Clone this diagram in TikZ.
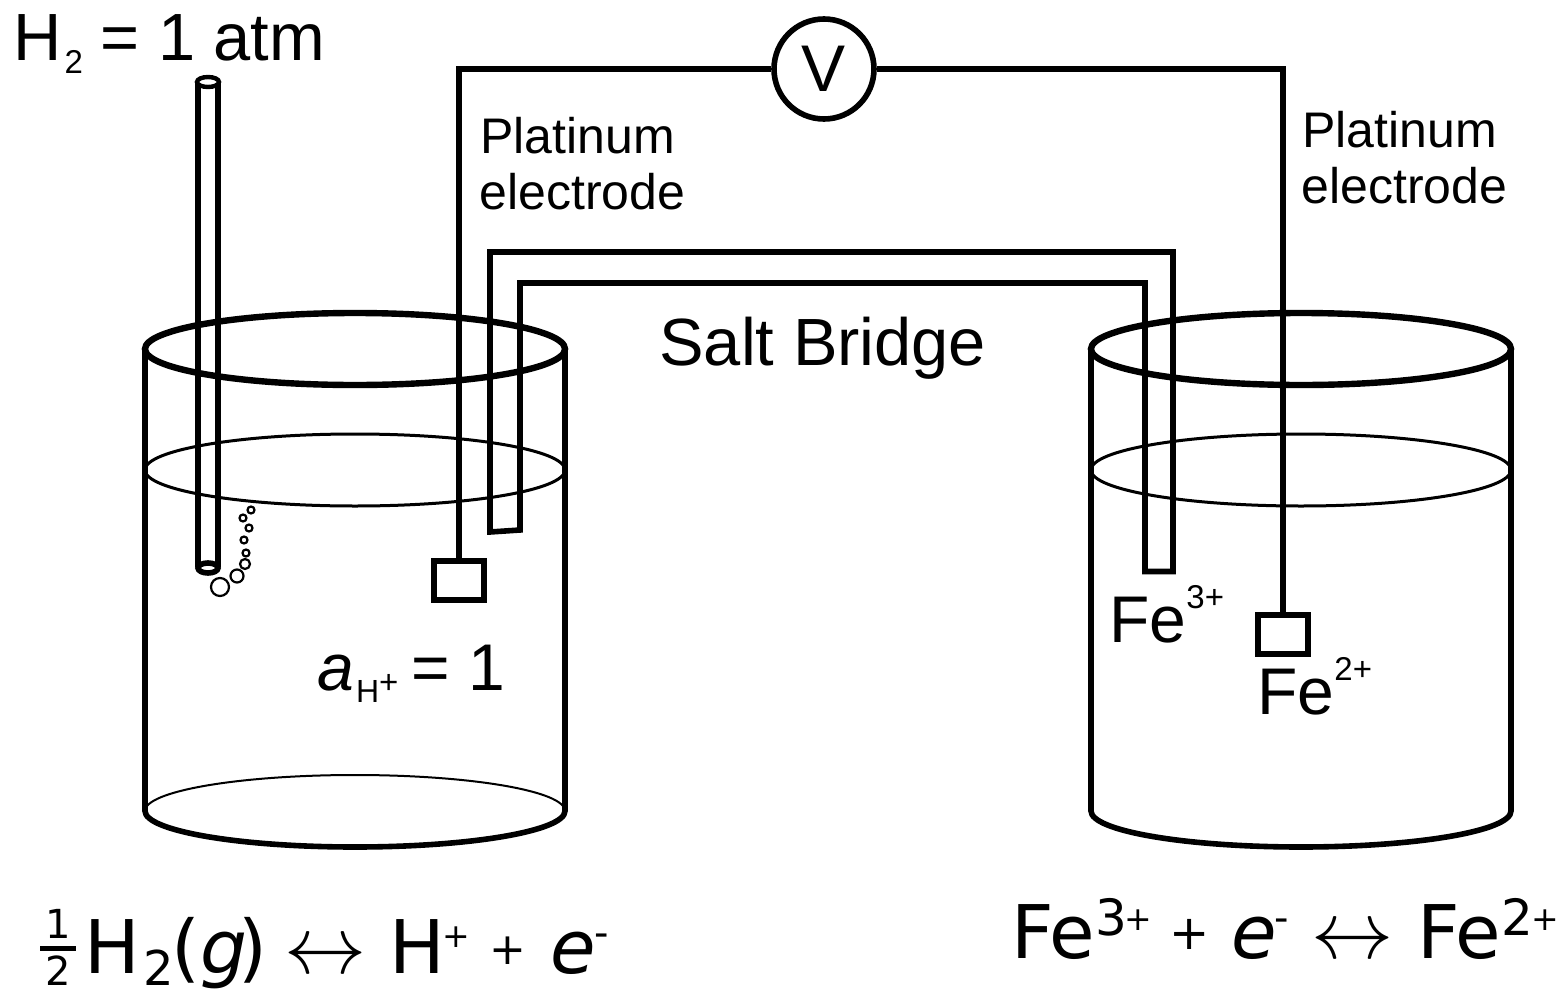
\documentclass[tikz,border=0pt]{standalone}
\usepackage{fontspec}
\setmainfont{Liberation Sans}
\newfontfamily\eqfont{DejaVu Sans}
\usetikzlibrary{positioning}
\newcommand{\supr}[1]{\raisebox{17pt}{\fontsize{16.5}{16.5}\selectfont #1}}
\newcommand{\eqdigit}[1]{\raisebox{11.5pt}{\fontsize{25}{25}\selectfont #1}}
\newcommand{\eqsmallplus}[1][14pt]{\raisebox{#1}{\fontsize{16.5}{16.5}\selectfont +}}
\newcommand{\eqplus}[1][22]{\raisebox{4.5pt}{\fontsize{#1}{#1}\selectfont +}}
\newcommand{\eqminus}{\raisebox{13.5pt}{\fontsize{20}{20}\selectfont -}}
\newcommand{\eqarrow}{\scalebox{1.65}{$\leftrightarrow$}}
\newcommand{\halfmark}{\makebox[20pt]{\fontsize{20}{20}\selectfont
    \hbox to 0pt{\hss\raisebox{17.5pt}{1}\hss}\hbox to 0pt{\hss\raisebox{11.25pt}{\rule{18pt}{2.5pt}}\hss}\hbox to 0pt{\hss\raisebox{-6pt}{2}\hss}}}
\begin{document}
\begin{tikzpicture}[
    x=0.5pt, y=-0.5pt,
    wire/.style={line width=2.8pt},
    rim/.style={line width=3.2pt},
    level/.style={line width=1.5pt},
    thinline/.style={line width=1pt},
    electrode/.style={draw, line width=2.8pt, minimum width=25pt, minimum height=19.5pt, inner sep=0pt},
    meter/.style={draw, circle, line width=2.8pt, minimum size=50pt, inner sep=0pt, font=\fontsize{33}{33}\selectfont},
    tag/.style={anchor=base west, inner sep=0pt, font=\fontsize{25}{25}\selectfont},
    biglabel/.style={anchor=base west, inner sep=0pt, font=\fontsize{33.4}{33.4}\selectfont},
    reaction/.style={anchor=base west, inner sep=0pt, font=\eqfont\fontsize{37}{37}\selectfont},
    bubble/.style={line width=1.1pt}
  ]
    \useasboundingbox (0,0) rectangle (1565,991);
    % beakers
    \foreach \cx in {355,1301} {
      \draw[rim] (\cx,349) ellipse [x radius=105pt, y radius=18pt];
      \draw[level] (\cx,470) ellipse [x radius=105pt, y radius=18pt];
      \draw[wire] (\cx-210,349) -- (\cx-210,811) arc [start angle=180, end angle=360, x radius=105pt, y radius=18pt] -- (\cx+210,349);
    }
    \draw[thinline] (145,811) arc [start angle=180, end angle=0, x radius=105pt, y radius=18pt];
    % voltmeter and electrodes
    \node[meter] (vm) at (824,69) {V};
    \node[electrode] (boxL) at (459,580.5) {};
    \node[electrode] (boxR) at (1283,634.5) {};
    \coordinate (cornerL) at (459,69);
    \coordinate (cornerR) at (1283,69);
    \draw[wire] (vm) -- (cornerL) -- (boxL);
    \draw[wire] (vm) -- (cornerR) -- (boxR);
    % salt bridge
    \draw[wire] (490,532) -- (490,252) -- (1173,252) -- (1173,571.5) -- (1145,571.5) -- (1145,283) -- (520,283) -- (520,530) -- cycle;
    % gas tube
    \draw[wire] (198,83) -- (198,567);
    \draw[wire] (218,83) -- (218,567);
    \draw[line width=2.2pt] (208,82) ellipse [x radius=5.5pt, y radius=2.5pt];
    \draw[wire] (208,568) ellipse [x radius=5pt, y radius=2.5pt];
    % bubbles
    \foreach \bx/\by/\br in {251/510/3.5, 243/518/3.5, 249/528/3.5, 244/540/3.5, 246/553/3.5, 245/564/5, 237/576/6.5, 220/587/9} {
      \draw[bubble] (\bx,\by) circle [radius=\br*0.5pt];
    }
    % labels
    \node[biglabel] (gas) at (13,60) {H\hspace{1.5pt}\raisebox{-6.5pt}{\fontsize{16.5}{16.5}\selectfont 2}\hspace{-0.5pt} = 1 atm};
    \node[tag] (platL) at (480,153) {Platinum};
    \node[tag] (elecL) at (479,209) {electrode};
    \node[tag] (platR) at (1302,147) {Platinum};
    \node[tag] (elecR) at (1301,203) {electrode};
    \node[biglabel] (bridge) at (659,365) {Salt Bridge};
    \node[biglabel, font=\fontsize{33}{33}\selectfont] (ferric) at (1109,642) {Fe\supr{3+}};
    \node[biglabel, font=\fontsize{33}{33}\selectfont] (ferrous) at (1257,714) {Fe\supr{2+}};
    \node[biglabel, font=\fontsize{33}{33}\selectfont] (activity) at (317,690) {\textit{a}\hspace{1pt}\raisebox{-6pt}{\fontsize{16}{16}\selectfont H}\raisebox{-1.5pt}{\fontsize{16.5}{16.5}\selectfont +}\hspace{-2.5pt} = 1};
    \node[reaction] (halfL) at (38,973) {\halfmark\hspace{3pt}H\hspace{1.7pt}\raisebox{-6pt}{\fontsize{24}{24}\selectfont 2}\hspace{-1pt}(\textit{g}\hspace{-4.5pt})\hspace{8.5pt}\eqarrow\hspace{11.5pt}H\hspace{-1.5pt}\eqsmallplus[13pt]\hspace{9.8pt}\eqplus\hspace{12pt}\textit{e}\hspace{-1pt}\eqminus};
    \node[reaction] (halfR) at (1011,958) {Fe\eqdigit{3}\hspace{-1.5pt}\eqsmallplus\hspace{9pt}\eqplus[24]\hspace{10.5pt}\textit{e}\hspace{-1pt}\eqminus\hspace{11pt}\eqarrow\hspace{12pt}Fe\eqdigit{2}\hspace{-1pt}\eqsmallplus};
  \end{tikzpicture}
\end{document}
